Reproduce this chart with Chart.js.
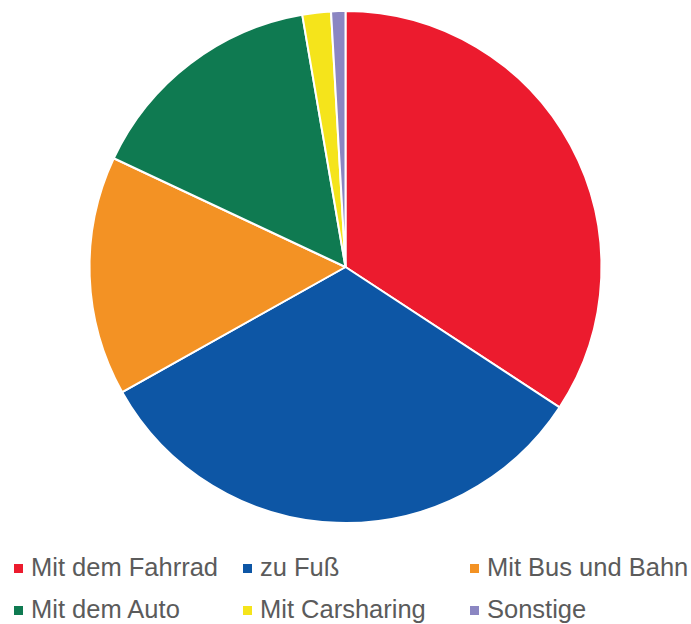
<!DOCTYPE html>
<html>
<head>
<meta charset="utf-8">
<script src="https://cdn.jsdelivr.net/npm/chart.js@4/dist/chart.umd.min.js"></script>
<style>
  html, body { margin: 0; padding: 0; background: #ffffff; }
  #wrap { position: relative; width: 691px; height: 624px; overflow: hidden; }
  #chartBox { position: absolute; left: 0; top: 0; width: 691px; height: 530px; }
  .lg { position: absolute; display: flex; align-items: center; height: 26px;
        font-family: "Liberation Sans", Arial, sans-serif; font-size: 25.5px; line-height: 26px;
        color: #5b5b5b; white-space: nowrap; }
  .lg .sw { width: 9px; height: 9px; margin-right: 8px; margin-top: 2px; flex: none; }
</style>
</head>
<body>
<div id="wrap">
  <div id="chartBox"><canvas id="c"></canvas></div>
  <div id="legend"></div>
</div>
<script>
const categories = ["Mit dem Fahrrad", "zu Fuß", "Mit Bus und Bahn", "Mit dem Auto", "Mit Carsharing", "Sonstige"];
const shares = [34.2, 32.6, 15.1, 15.3, 1.8, 0.9];
const sliceColors = ["#EC1B2E", "#0D56A5", "#F39224", "#0F7A51", "#F5E41B", "#8B86C2"];

const legendCols = [14, 243, 470];
const legendRows = [554, 596];

new Chart(document.getElementById('c'), {
  type: 'pie',
  data: {
    labels: categories,
    datasets: [{
      data: shares,
      backgroundColor: sliceColors,
      borderColor: '#ffffff',
      borderWidth: 2
    }]
  },
  options: {
    responsive: true,
    maintainAspectRatio: false,
    animation: false,
    layout: { padding: { top: 10, bottom: 6, left: 0, right: 0 } },
    plugins: {
      legend: { display: false },
      tooltip: { enabled: false },
      title: { display: false }
    }
  }
});

const legend = document.getElementById('legend');
categories.forEach((name, i) => {
  const item = document.createElement('div');
  item.className = 'lg';
  item.style.left = legendCols[i % 3] + 'px';
  item.style.top = legendRows[Math.floor(i / 3)] + 'px';
  const sw = document.createElement('span');
  sw.className = 'sw';
  sw.style.background = sliceColors[i];
  const tx = document.createElement('span');
  tx.textContent = name;
  item.appendChild(sw);
  item.appendChild(tx);
  legend.appendChild(item);
});
</script>
</body>
</html>
